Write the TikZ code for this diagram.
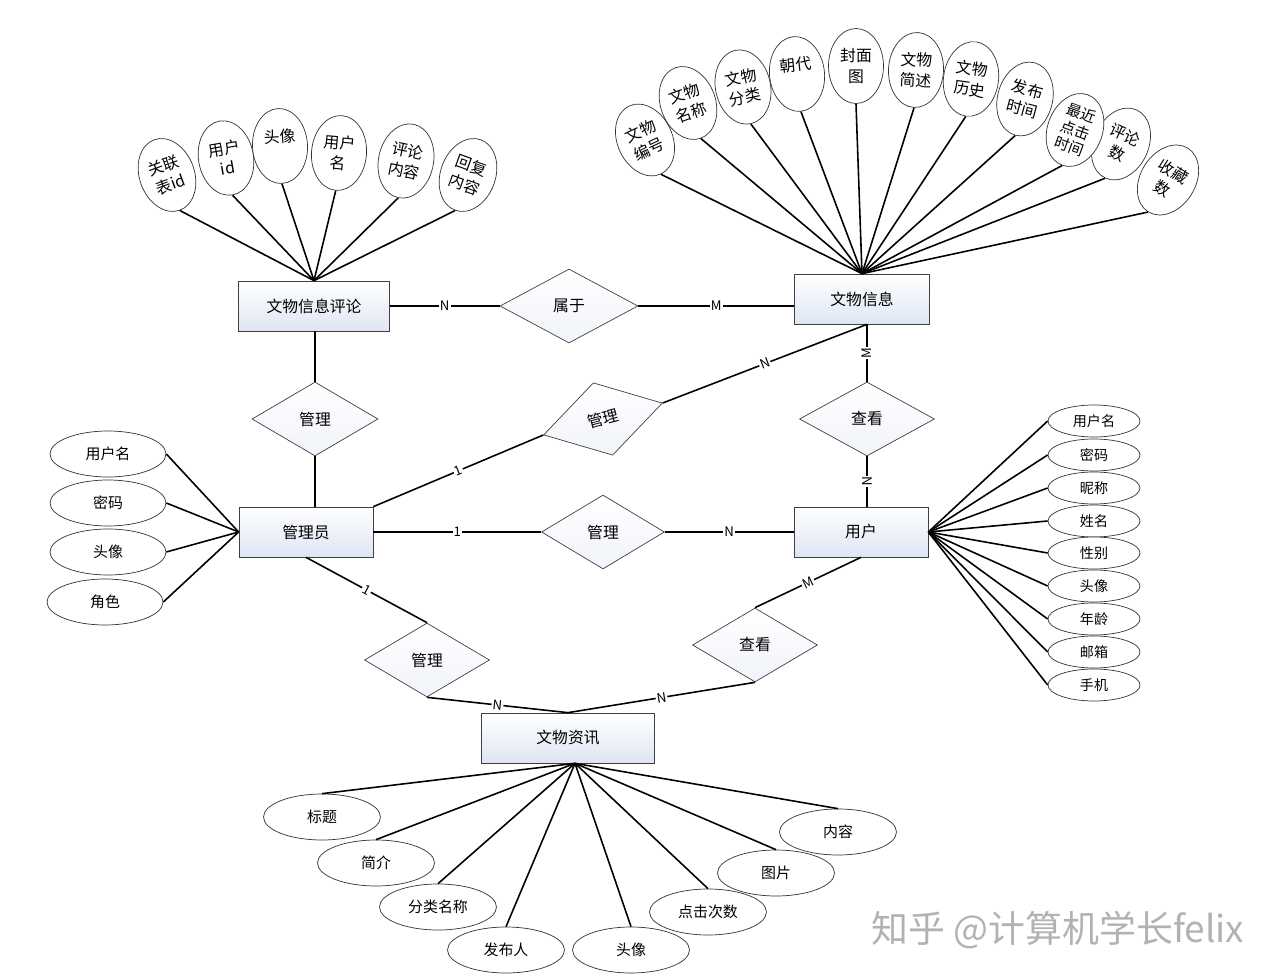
\documentclass[tikz,border=0pt]{standalone}
\usepackage{fontspec}
\setmainfont{Noto Sans CJK SC}
\usepackage{tikz}
\usetikzlibrary{shapes.geometric,calc}

\definecolor{entblue}{RGB}{222,229,243}

\begin{document}
\begin{tikzpicture}[
    x=0.02cm, y=-0.02cm,
    entity/.style={draw=black!75, top color=white, bottom color=entblue, minimum height=1cm, inner sep=0pt, font=\fontsize{9}{11}\selectfont},
    rel/.style={diamond, draw=black!75, top color=white, bottom color=entblue!45, minimum width=2.52cm, minimum height=1.48cm, inner sep=0pt, font=\fontsize{9}{11}\selectfont},
    attr/.style={ellipse, draw=black!80, fill=white, inner sep=0pt, font=\fontsize{8.5}{10}\selectfont},
    fanattr/.style={attr, minimum width=1.1cm, minimum height=1.5cm, align=center, font=\fontsize{9}{11.5}\selectfont},
    link/.style={draw=black, line width=0.9pt},
    card/.style={fill=white, inner sep=0.6pt, sloped, font=\fontsize{7.5}{8}\selectfont}
]
\useasboundingbox (0,0) rectangle (1282,979);

% entities
\node[entity, minimum width=3.02cm] (pl) at (314,306) {文物信息评论};
\node[entity, minimum width=2.7cm] (info) at (862,299) {文物信息};
\node[entity, minimum width=2.68cm] (admin) at (306,532) {管理员};
\node[entity, minimum width=2.68cm] (user) at (861,532) {用户};
\node[entity, minimum width=3.46cm] (news) at (568,738) {文物资讯};

% relationships
\node[rel, minimum width=2.76cm] (sy) at (569,306) {属于};
\node[rel] (gl1) at (315,419) {管理};
\node[rel, minimum width=2.46cm, minimum height=1.5cm, rotate=15] (gl2) at (603,419) {管理};
\node[rel, minimum width=2.7cm] (ck1) at (867,419) {查看};
\node[rel, minimum width=2.46cm] (gl3) at (603,532) {管理};
\node[rel, minimum width=2.5cm] (gl4) at (427,660) {管理};
\node[rel, minimum width=2.5cm] (ck2) at (755,645) {查看};

% links with cardinality
\draw[link] (pl) -- node[card] {N} (sy);
\draw[link] (sy.east) -- node[card] {M} (sy.east -| info.west);
\draw[link] (pl.south -| gl1.north) -- (gl1.north);
\draw[link] (gl1.south) -- (gl1.south |- admin.north);
\draw[link] (admin.north east) -- node[card] {1} (gl2.west);
\draw[link] (gl2.east) -- node[card] {N} (info.south -| ck1.north);
\draw[link] (ck1.north) -- node[card] {M} (ck1.north |- info.south);
\draw[link] (ck1.south) -- node[card] {N} (ck1.south |- user.north);
\draw[link] (admin.east) -- node[card] {1} (gl3.west);
\draw[link] (gl3.east) -- node[card] {N} (user.west);
\draw[link] (admin.south) -- node[card] {1} (gl4.north);
\draw[link] (gl4.south) -- node[card] {N} (news.north);
\draw[link] (ck2.north) -- node[card] {M} (user.south);
\draw[link] (ck2.south) -- node[card] {N} (news.north);

% attributes of the comment table
\foreach \k/\px/\py/\ang/\la/\lb in {
    1/167/175/20/关联/表id,
    2/226/158/10/用户/id,
    3/280/146/3/头像/{},
    4/339/153/-5/用户/名,
    5/406/161/-12/评论/内容,
    6/468/175/-20/回复/内容
} {
    \node[fanattr, rotate=\ang] (pa-\k) at (\px,\py) {\la\\\lb};
    \draw[link] (pa-\k.south) -- (pl.north);
}

% attributes of the relic info
\foreach \k/\px/\py/\ang/\la/\lb in {
    1/645/140/25/文物/编号,
    2/688/103/20/文物/名称,
    3/743/87/12/文物/分类,
    4/797/74/6/朝代/{},
    5/856/66/0/封面/图,
    6/916/70/-3/文物/简述,
    7/971/79/-8/文物/历史,
    8/1025/99/-15/发布/时间,
    10/1121/144/-25/评论/数,
    11/1168/180/-32/收藏/数
} {
    \node[fanattr, rotate=\ang] (ia-\k) at (\px,\py) {\la\\\lb};
    \draw[link] (ia-\k.south) -- (info.north);
}
\node[fanattr, rotate=-20, font=\fontsize{8.5}{10}\selectfont] (ia-9) at (1075,130) {最近\\点击\\时间};
\draw[link] (ia-9.south) -- (info.north);

% attributes of the admin
\foreach \k/\px/\py/\lbl in {1/108/454/用户名, 2/108/503/密码, 3/108/552/头像, 4/105/602/角色} {
    \node[attr, minimum width=2.32cm, minimum height=0.92cm] (aa-\k) at (\px,\py) {\lbl};
    \draw[link] (aa-\k.east) -- (admin.west);
}

% attributes of the user
\foreach \k/\py/\lbl in {1/421/用户名, 2/455/密码, 3/488/昵称, 4/521/姓名, 5/553/性别,
    6/586/头像, 7/619/年龄, 8/652/邮箱, 9/685/手机} {
    \node[attr, minimum width=1.84cm, minimum height=0.64cm, font=\fontsize{8}{9}\selectfont] (ua-\k) at (1094,\py) {\lbl};
    \draw[link] (ua-\k.west) -- (user.east);
}

% attributes of the news
\foreach \k/\px/\py/\lbl in {1/322/817/标题, 2/376/863/简介, 3/438/907/分类名称, 4/506/950/发布人,
    5/631/950/头像, 6/708/912/点击次数, 7/776/873/图片, 8/838/832/内容} {
    \node[attr, minimum width=2.34cm, minimum height=0.92cm] (na-\k) at (\px,\py) {\lbl};
    \draw[link] (na-\k.north) -- ([xshift=0.14cm]news.south);
}

% watermark
\node[font=\fontsize{21}{21}\selectfont, text=black!30] (wm) at (1058,930) {知乎 @计算机学长felix};
\end{tikzpicture}
\end{document}
